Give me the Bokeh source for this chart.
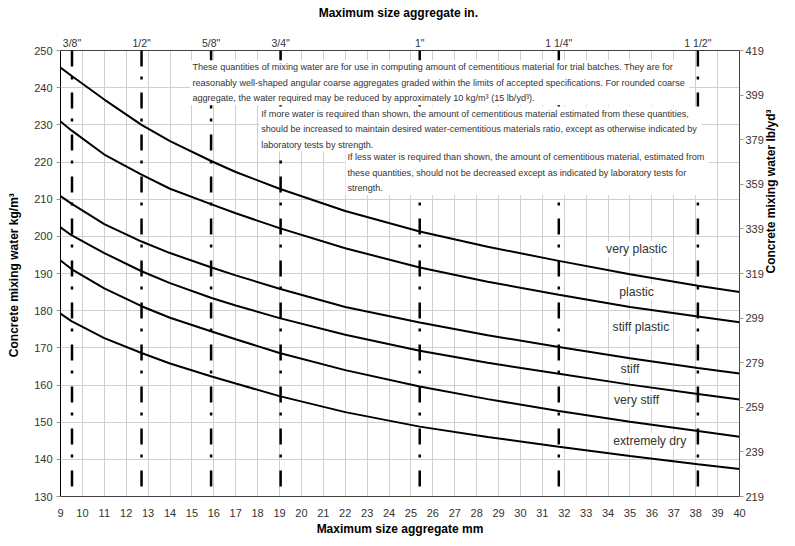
import math
from bokeh.plotting import figure
from bokeh.models import (Range1d, LinearAxis, FixedTicker, SingleIntervalTicker,
                          Span, Label)
from bokeh.embed import file_html
from bokeh.resources import INLINE

# ---- data ----
x_mm = [9, 9.5, 11, 12.7, 14, 15.9, 17, 19, 22, 25.4, 28.5, 31.75, 35, 38.1, 40]
very_plastic = [245.4, 243.2, 236.8, 230.0, 225.6, 220.2, 217.3, 212.8, 206.8, 201.3, 197.2, 193.4, 189.8, 186.7, 185.0]
plastic = [230.9, 228.5, 222.0, 216.6, 212.8, 208.6, 206.2, 202.2, 196.8, 191.6, 187.8, 184.3, 181.0, 178.4, 176.9]
stiff_plastic = [210.8, 208.8, 203.3, 198.6, 195.5, 191.6, 189.5, 185.9, 181.0, 176.8, 173.4, 170.2, 167.2, 164.6, 163.1]
stiff = [202.4, 200.3, 195.5, 190.6, 187.4, 183.4, 181.4, 178.0, 173.5, 169.2, 166.0, 163.0, 160.1, 157.6, 156.1]
very_stiff = [193.5, 191.2, 186.0, 181.2, 178.1, 174.4, 172.3, 168.6, 164.0, 159.6, 156.2, 153.0, 150.1, 147.6, 146.1]
extremely_dry = [179.2, 177.2, 172.6, 168.6, 165.8, 162.3, 160.4, 157.0, 152.7, 148.8, 146.0, 143.4, 140.9, 138.7, 137.4]

series = [very_plastic, plastic, stiff_plastic, stiff, very_stiff, extremely_dry]
series_names = ["very plastic", "plastic", "stiff plastic", "stiff", "very stiff", "extremely dry"]
name_x = [35.3, 35.3, 35.5, 35.0, 35.3, 35.9]
name_y = [196.6, 185.1, 175.5, 164.2, 155.9, 145.0]

inch_mm = [9.525, 12.7, 15.875, 19.05, 25.4, 31.75, 38.1]
inch_labels = ['3/8"', '1/2"', '5/8"', '3/4"', '1"', '1 1/4"', '1 1/2"']

lb_ticks = [219, 239, 259, 279, 299, 319, 339, 359, 379, 399, 419]

note1 = ("These quantities of mixing water are for use in computing amount of cementitious material for trial batches. They are for\n"
         "reasonably well-shaped angular coarse aggregates graded within the limits of accepted specifications.  For rounded coarse\n"
         "aggregate, the water required may be reduced by approximately 10 kg/m\u00b3 (15 lb/yd\u00b3).")
note2 = ("If more water is required than shown, the  amount of cementitious material estimated from these quantities,\n"
         "should be increased to maintain desired water-cementitious materials ratio, except as otherwise indicated  by\n"
         "laboratory tests by strength.")
note3 = ("If less water is required than shown, the  amount of cementitious material, estimated from\n"
         "these quantities, should not be decreased except as indicated  by laboratory tests  for\n"
         "strength.")

FONT = "Liberation Sans"
TXT = "#333333"

p = figure(width=787, height=538, output_backend="svg", toolbar_location=None,
           x_range=Range1d(9, 40), y_range=Range1d(130, 250),
           min_border_left=60, min_border_right=43, min_border_top=50, min_border_bottom=41,
           x_axis_label="Maximum size aggregate mm",
           y_axis_label="Concrete mixing water  kg/m\u00b3")
p.outline_line_color = "#666666"
p.background_fill_color = "white"

# grids
p.xgrid.ticker = SingleIntervalTicker(interval=1)
p.ygrid.ticker = SingleIntervalTicker(interval=10)
p.xgrid.grid_line_color = "#cfcfcf"
p.ygrid.grid_line_color = "#cfcfcf"

# bottom axis
xa = p.xaxis[0]
xa.ticker = SingleIntervalTicker(interval=1)
xa.major_tick_out = 0
xa.major_label_standoff = 12
xa.axis_label_standoff = 2

# left axis
ya = p.yaxis[0]
ya.ticker = SingleIntervalTicker(interval=10)
ya.major_tick_out = 4
ya.major_label_standoff = 4
ya.axis_label_standoff = 10

# right axis
p.extra_y_ranges = {"lb": Range1d(219, 419)}
ra = LinearAxis(y_range_name="lb", ticker=FixedTicker(ticks=lb_ticks),
                axis_label="Concrete mixing water  lb/yd\u00b3")
ra.major_tick_out = 4
ra.major_label_standoff = 2
ra.axis_label_standoff = 4
try:
    ra.axis_label_orientation = math.pi / 2
except Exception:
    pass
p.add_layout(ra, "right")

# top axis
ta = LinearAxis(ticker=FixedTicker(ticks=inch_mm), axis_label="Maximum size aggregate  in.",
                major_label_overrides={v: s for v, s in zip(inch_mm, inch_labels)})
ta.major_tick_out = 0
ta.major_label_standoff = 2
ta.axis_label_standoff = 14
p.add_layout(ta, "above")

for ax in [xa, ya, ra, ta]:
    ax.major_tick_in = 0
    ax.minor_tick_out = 0
    ax.minor_tick_in = 0
    ax.axis_line_color = "#444444"
    ax.major_tick_line_color = "#999999"
    ax.major_label_text_font = FONT
    ax.major_label_text_font_size = "11px"
    ax.major_label_text_color = TXT
    ax.axis_label_text_font = FONT
    ax.axis_label_text_font_size = "12px"
    ax.axis_label_text_font_style = "bold"
    ax.axis_label_text_color = "black"
ta.major_label_text_font_size = "10.5px"
ya.axis_line_color = "black"

# dash-dot lines at inch sizes
for v in inch_mm:
    p.add_layout(Span(location=v, dimension="height", line_color="black",
                      line_width=2.5, line_dash="16 10 3 13"))

# curves
for ys in series:
    p.line(x_mm, ys, line_color="black", line_width=2)

# notes
for txt, nx, ny in [(note1, 14.93, 247.4), (note2, 18.07, 234.9), (note3, 22.01, 223.2)]:
    p.add_layout(Label(x=nx, y=ny, text=txt, text_font=FONT, text_font_size="9.1px",
                       text_color=TXT, text_baseline="top", text_align="left",
                       text_line_height=1.55, background_fill_color="white",
                       padding=2))

# curve names
for nm, nx, ny in zip(series_names, name_x, name_y):
    p.add_layout(Label(x=nx, y=ny, text=nm, text_font=FONT, text_font_size="12.2px",
                       text_color=TXT, text_baseline="middle", text_align="center",
                       background_fill_color="white", padding=1))

open("out.html", "w").write(file_html(p, INLINE))
